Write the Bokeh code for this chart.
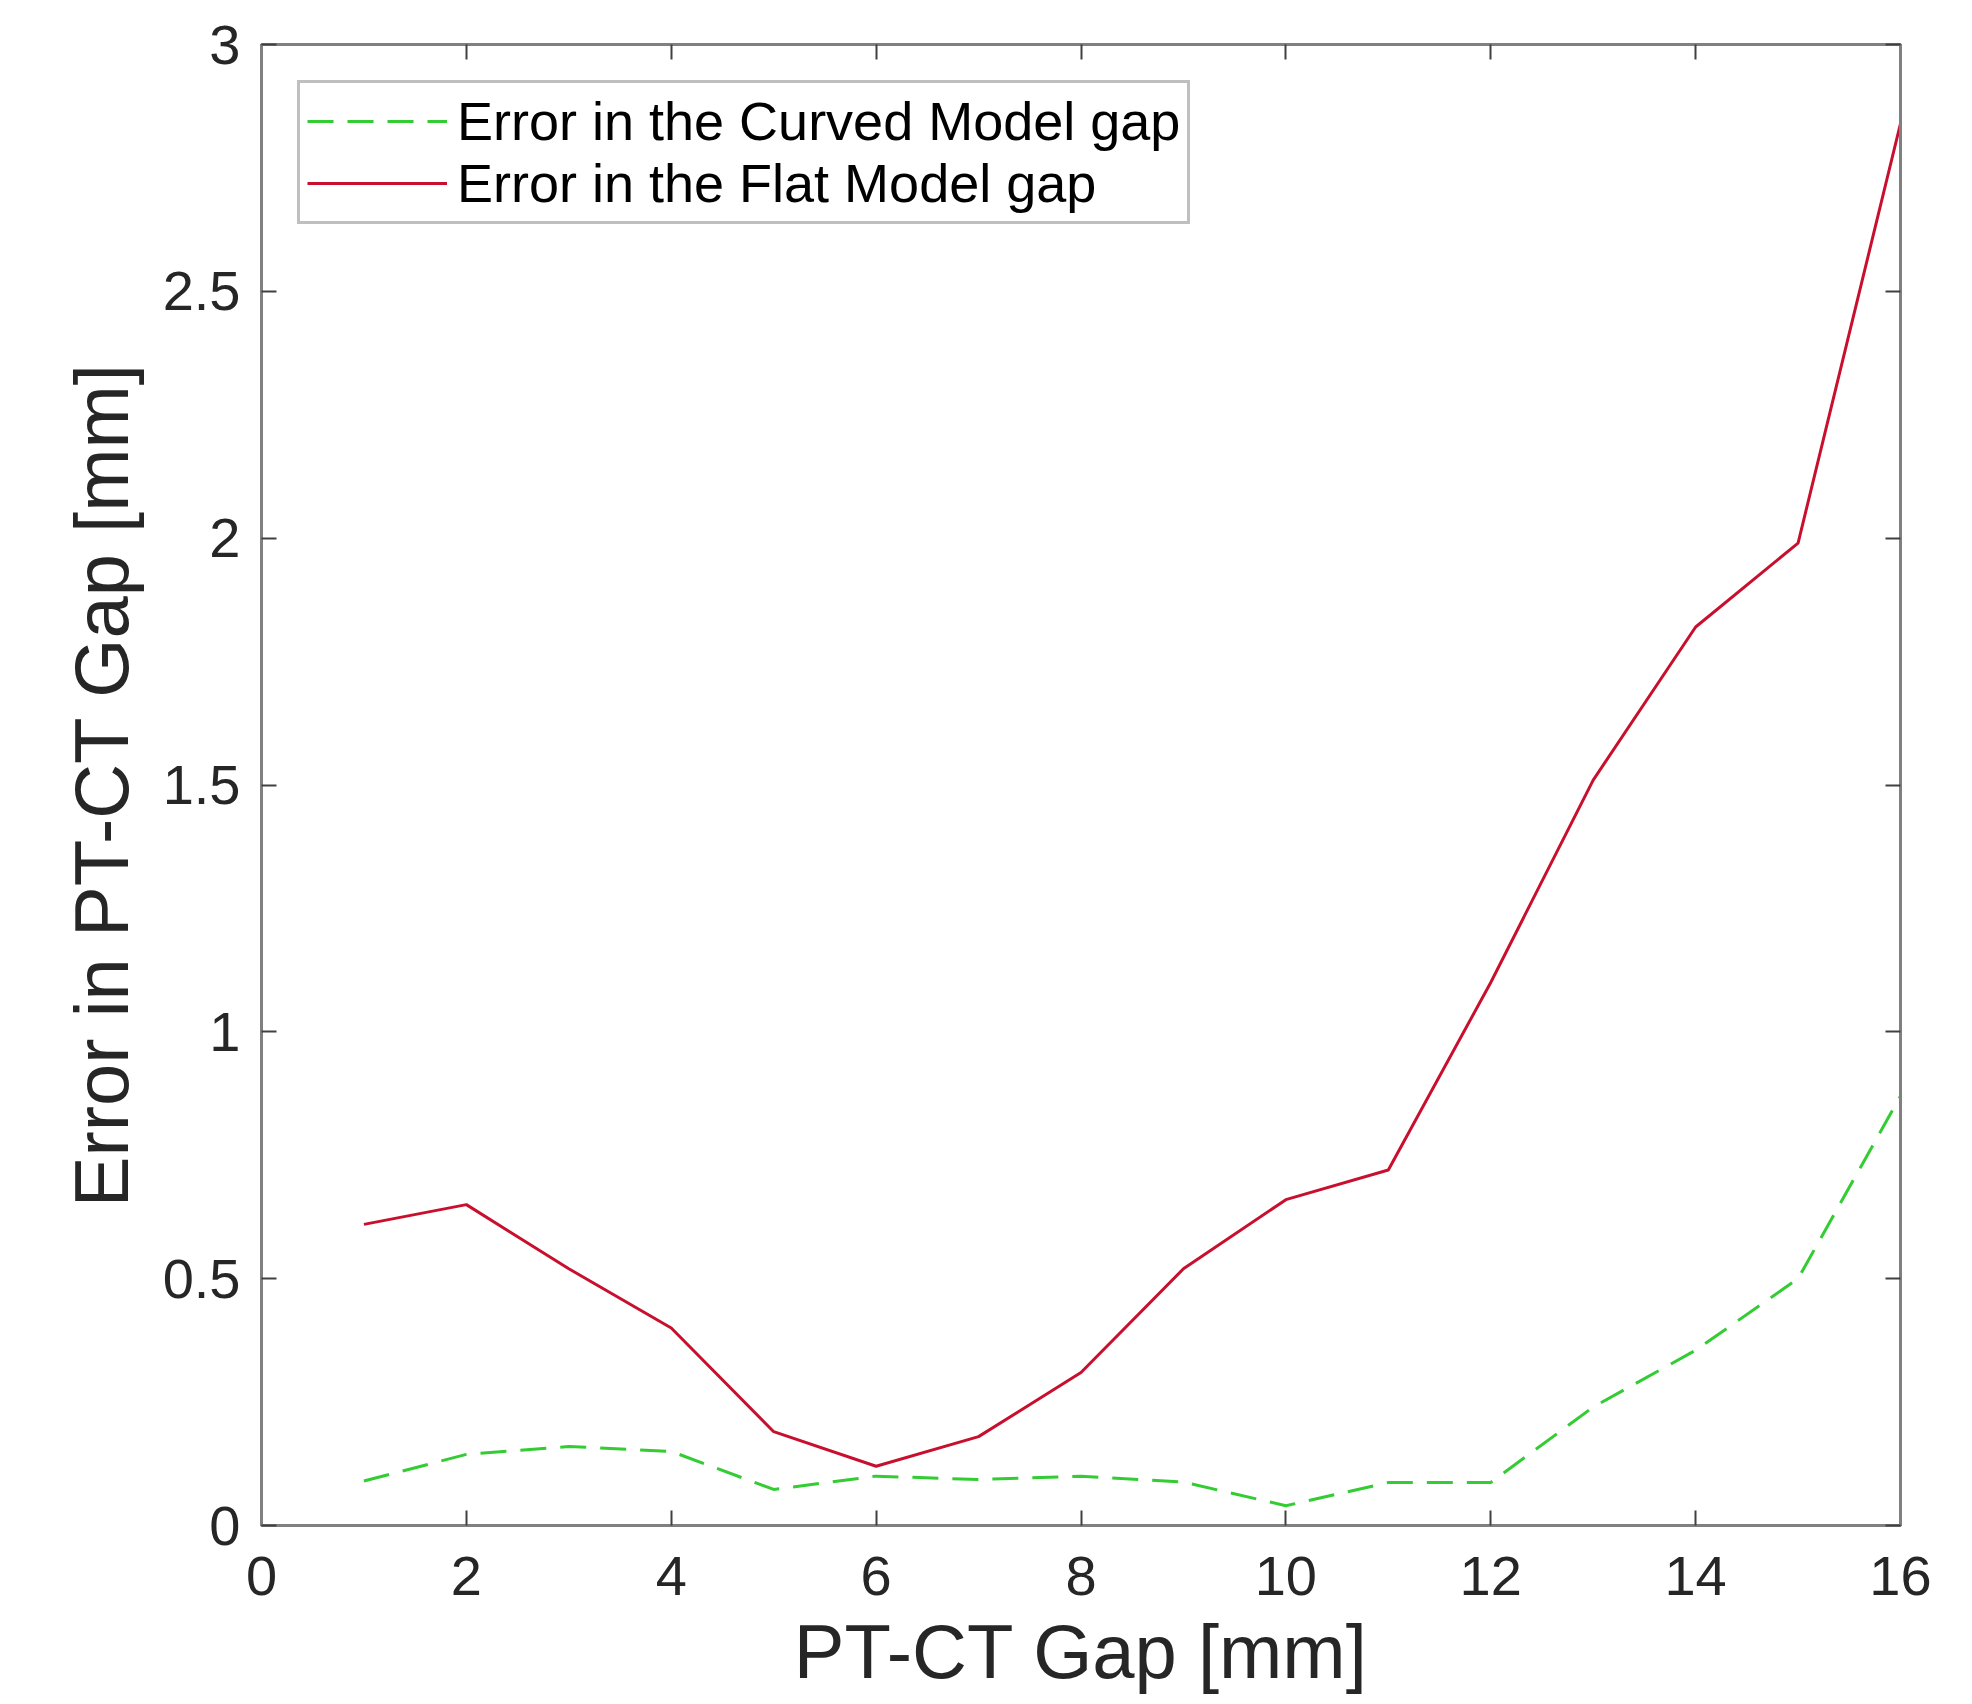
from bokeh.plotting import figure
from bokeh.models import LinearAxis, Range1d, FixedTicker, Legend, LegendItem
from bokeh.embed import file_html
from bokeh.resources import INLINE

# ---- data ----
gap_mm = [1, 2, 3, 4, 5, 6, 7, 8, 9, 10, 11, 12, 13, 14, 15, 16]
err_curved = [0.09, 0.144, 0.16, 0.15, 0.073, 0.10, 0.093, 0.10, 0.088, 0.04,
              0.087, 0.087, 0.24, 0.355, 0.50, 0.87]
err_flat = [0.61, 0.65, 0.52, 0.40, 0.19, 0.12, 0.18, 0.31, 0.52, 0.66,
            0.72, 1.10, 1.51, 1.82, 1.99, 2.84]

x_ticks = [0, 2, 4, 6, 8, 10, 12, 14, 16]
y_ticks = [0, 0.5, 1, 1.5, 2, 2.5, 3]
y_tick_labels = ["0", "0.5", "1", "1.5", "2", "2.5", "3"]

label_curved = "Error in the Curved Model gap"
label_flat = "Error in the Flat Model gap"
x_title = "PT-CT Gap [mm]"
y_title = "Error in PT-CT Gap [mm]"

FONT = "Liberation Sans"
AXIS_GREY = "#808080"
TICK_GREY = "#404040"
TEXT_COL = "#262626"
RED = "#c8102e"
GREEN = "#33cc33"

p = figure(width=1956, height=1696, output_backend="svg", toolbar_location=None,
           x_range=Range1d(0, 16), y_range=Range1d(0, 3),
           min_border_left=261, min_border_right=56,
           min_border_top=44, min_border_bottom=171)

p.background_fill_color = "white"
p.border_fill_color = "white"
p.xgrid.grid_line_color = None
p.ygrid.grid_line_color = None
p.outline_line_color = AXIS_GREY
p.outline_line_width = 3

g = p.line(gap_mm, err_curved, line_color=GREEN, line_width=3, line_dash="26 14")
r = p.line(gap_mm, err_flat, line_color=RED, line_width=3)

def style_axis(ax, ticks):
    ax.ticker = FixedTicker(ticks=ticks)
    ax.axis_line_color = AXIS_GREY
    ax.axis_line_width = 3
    ax.major_tick_in = 15
    ax.major_tick_out = 0
    ax.major_tick_line_color = TICK_GREY
    ax.major_tick_line_width = 2
    ax.minor_tick_line_color = None
    ax.major_label_text_font = FONT
    ax.major_label_text_font_size = "56px"
    ax.major_label_text_color = TEXT_COL
    ax.axis_label_text_font = FONT
    ax.axis_label_text_font_size = "76px"
    ax.axis_label_text_font_style = "normal"
    ax.axis_label_text_color = TEXT_COL

xa = p.xaxis[0]
style_axis(xa, x_ticks)
xa.axis_label = x_title
xa.major_label_standoff = 31
xa.axis_label_standoff = 11

ya = p.yaxis[0]
style_axis(ya, y_ticks)
ya.axis_label = y_title
ya.major_label_standoff = 21
ya.axis_label_standoff = 16
ya.major_label_overrides = {t: s for t, s in zip(y_ticks, y_tick_labels)}

top = LinearAxis()
style_axis(top, x_ticks)
top.major_label_overrides = {t: "" for t in x_ticks}
top.major_label_text_font_size = "1px"
top.major_label_standoff = 0
p.add_layout(top, "above")

right = LinearAxis()
style_axis(right, y_ticks)
right.major_label_overrides = {t: "" for t in y_ticks}
right.major_label_text_font_size = "1px"
right.major_label_standoff = 0
p.add_layout(right, "right")

legend = Legend(items=[LegendItem(label=label_curved, renderers=[g]),
                       LegendItem(label=label_flat, renderers=[r])],
                location="top_left")
legend.border_line_color = AXIS_GREY
legend.border_line_width = 3
legend.background_fill_color = "white"
legend.background_fill_alpha = 1
legend.label_text_font = FONT
legend.label_text_font_size = "54px"
legend.label_text_color = "#000000"
legend.glyph_width = 140
legend.glyph_height = 48
legend.label_standoff = 10
legend.spacing = 0
legend.padding = 7
legend.margin = 36
p.add_layout(legend, "center")

open("out.html", "w").write(file_html(p, INLINE))
